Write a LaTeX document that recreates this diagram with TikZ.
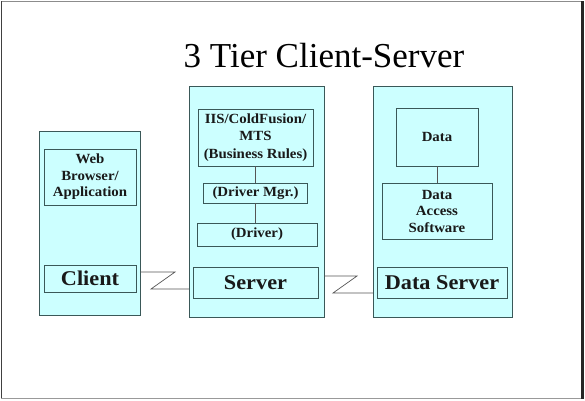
\documentclass[tikz,border=0pt]{standalone}
\usepackage{fontspec}
\setmainfont{Liberation Serif}
\newfontfamily\labfont[FakeStretch=1.06]{Liberation Serif}
\definecolor{boxfill}{HTML}{CCFFFF}
\definecolor{boxline}{HTML}{3A5858}
\definecolor{wirecol}{HTML}{555555}
\begin{document}
\begin{tikzpicture}[x=1pt,y=-1pt,
  tier/.style={draw=boxline,fill=boxfill,line width=0.9pt},
  inner/.style={draw=boxline,fill=boxfill,line width=0.9pt},
  small/.style={font=\labfont\bfseries\fontsize{14}{16.5}\selectfont,align=center,text=black!90},
  big/.style={font=\labfont\bfseries\fontsize{21}{24}\selectfont,text=black!90},
  wire/.style={draw=wirecol,line width=0.7pt}]
\useasboundingbox (0,0) rectangle (585,400);
% frame
\draw[line width=0.8pt,black!45] (1,1.5) -- (583,1.5);
\draw[line width=1.6pt,black!75] (1.5,1) -- (1.5,399);
\draw[line width=0.8pt,black!40] (1,398.5) -- (583,398.5);
\draw[line width=3pt,black!85] (582.5,1) -- (582.5,399);
% title
\node[font=\fontsize{35}{40}\selectfont,anchor=base] (title) at (324,67) {3 Tier Client-Server};
% tiers
\draw[tier] (39,131) rectangle (140,315);
\draw[tier] (189,86) rectangle (324,317);
\draw[tier] (373,86) rectangle (512,317);
% client inner
\node[inner,small,minimum width=92pt,minimum height=56pt,inner sep=0pt] (web) at (90,177) {Web\\Browser/\\Application};
\node[inner,big,minimum width=92pt,minimum height=27pt,inner sep=0pt] (client) at (90,278.5) {Client};
% server inner
\node[inner,small,minimum width=115pt,minimum height=57pt,inner sep=0pt] (iis) at (255.5,137.5) {IIS/ColdFusion/\\[1pt]MTS\\[1pt](Business Rules)};
\node[inner,small,minimum width=104pt,minimum height=20pt,inner sep=0pt] (mgr) at (255.5,193) {(Driver Mgr.)};
\node[inner,small,minimum width=120pt,minimum height=23pt,inner sep=0pt] (drv) at (257,234.5) {(Driver)};
\node[inner,big,minimum width=125pt,minimum height=31pt,inner sep=0pt] (server) at (255.5,282.5) {Server};
% data server inner
\node[inner,small,minimum width=82pt,minimum height=58pt,inner sep=0pt] (data) at (437,137) {Data};
\node[inner,small,minimum width=110pt,minimum height=56pt,inner sep=0pt] (das) at (437,211) {Data\\Access\\Software};
\node[inner,big,minimum width=130pt,minimum height=31pt,inner sep=0pt] (dsrv) at (442,282.5) {Data Server};
% internal links
\draw[wire] (iis.south) -- (mgr.north);
\draw[wire] (mgr.south) -- (mgr.south |- drv.north);
\draw[wire] (data.south) -- (das.north);
% zigzag connectors
\coordinate (c1) at (140,272);
\coordinate (s1) at (189,289);
\draw[wire] (c1) -- (175,272) -- (151,289) -- (s1);
\coordinate (s2) at (324,276);
\coordinate (d2) at (373,293);
\draw[wire] (s2) -- (357,276) -- (333,293) -- (d2);
\end{tikzpicture}
\end{document}
